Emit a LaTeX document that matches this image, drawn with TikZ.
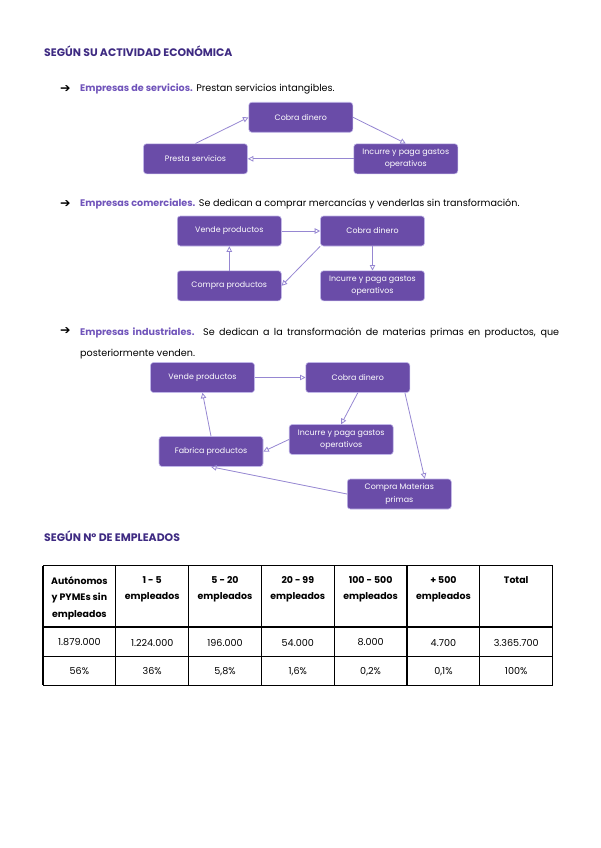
\documentclass[tikz,border=0pt]{standalone}
\usepackage{fontspec}
\setmainfont{Poppins}
\newfontfamily\symfont{DejaVu Sans}
\usepackage{xcolor}
\usetikzlibrary{arrows.meta}

\definecolor{boxpurple}{RGB}{106,76,168}
\definecolor{boxedge}{RGB}{192,182,232}
\definecolor{arrowlav}{RGB}{150,135,210}
\definecolor{headpurple}{RGB}{62,42,130}
\definecolor{empurple}{RGB}{112,84,186}

\begin{document}
\begin{tikzpicture}
  [x=1pt, y=-1pt,
    box/.style={rectangle, rounded corners=3pt, fill=boxpurple, draw=boxedge,
      line width=0.6pt, minimum width=104pt, minimum height=30pt,
      align=center, text=white, inner sep=1pt,
      font=\fontsize{7.9}{12.4}\selectfont},
    ld/.style={draw=arrowlav, line width=0.8pt,
      -{Triangle[open,length=5.5pt,width=5.5pt]}},
    heading/.style={anchor=west, inner sep=0pt, text=headpurple,
      font=\fontsize{10.9}{13}\selectfont\bfseries},
    bullet/.style={anchor=west, inner sep=0pt, font=\fontsize{9.6}{11}\selectfont},
    mark arrow/.style={anchor=west, inner sep=0pt, font=\fontsize{12.5}{13}\symfont},
    cellhead/.style={anchor=north, align=center, inner sep=0pt,
      font=\fontsize{9.4}{16.6}\selectfont\bfseries},
    cellval/.style={inner sep=0pt, font=\fontsize{9.6}{11}\selectfont}
  ]
  \useasboundingbox (0,0) rectangle (600,848);

  % titles and bullets
  \node (t1) at (44,51) [heading] {SEGÚN SU ACTIVIDAD ECONÓMICA};
  \node (a1) at (60,89)  [mark arrow] {➔};
  \node (a2) at (60,204) [mark arrow] {➔};
  \node (a3) at (60,331) [mark arrow] {➔};
  \node (m1) at (80,89) [bullet] {\textcolor{empurple}{\bfseries Empresas de servicios.} Prestan servicios intangibles.};
  \node (m2) at (80,204) [bullet] {\textcolor{empurple}{\bfseries Empresas comerciales.} Se dedican a comprar mercancías y venderlas sin transformación.};
  \node (m3) at (80,328) [anchor=north west, inner sep=0pt, text width=479pt,
    align=justify, font=\fontsize{9.6}{20.4}\selectfont]
    {\hyphenpenalty=10000 \textcolor{empurple}{\bfseries Empresas industriales.} Se dedican a la transformación de materias primas en productos, que\linebreak posteriormente venden.};

  % servicios
  \node (cobra1)   at (300.8,117.3) [box] {Cobra dinero};
  \node (presta)   at (195.5,158.8) [box] {Presta servicios};
  \node (incurre1) at (405.8,158.8) [box] {Incurre y paga gastos\\operativos};

  \draw [ld] (presta.north) -- (cobra1.west);
  \draw [ld] (cobra1.east) -- (incurre1.north);
  \draw [ld] (incurre1.west) -- (presta.east);

  % comerciales
  \node (vende2)   at (229.3,231.0) [box] {Vende productos};
  \node (cobra2)   at (372.5,231.0) [box] {Cobra dinero};
  \node (compra2)  at (229.3,285.8) [box] {Compra productos};
  \node (incurre2) at (372.5,285.8) [box] {Incurre y paga gastos\\operativos};

  \draw [ld] (vende2.east) -- (cobra2.west);
  \draw [ld] (cobra2.south) -- (incurre2.north);
  \draw [ld] (cobra2.south west) -- (compra2.east);
  \draw [ld] (compra2.north) -- (vende2.south);

  % industriales
  \node (vende3)    at (202.5,377.5) [box] {Vende productos};
  \node (cobra3)    at (357.8,377.5) [box] {Cobra dinero};
  \node (incurre3)  at (341.2,439.5) [box] {Incurre y paga gastos\\operativos};
  \node (fabrica3)  at (211.0,451.5) [box] {Fabrica productos};
  \node (materias3) at (399.3,494.0) [box] {Compra Materias\\primas};

  \draw [ld] (vende3.east) -- (cobra3.west);
  \draw [ld] (cobra3.south) -- (incurre3.north);
  \draw [ld] (cobra3.-18) -- (materias3.31);
  \draw [ld] (incurre3.west) -- (fabrica3.east);
  \draw [ld] (materias3.west) -- (fabrica3.south);
  \draw [ld] (fabrica3.north) -- (vende3.south);

  % tabla
  \node (t2) at (44,536) [heading] {SEGÚN Nº DE EMPLEADOS};

  \foreach \i in {0,...,7}
    \draw [line width=1.1pt] ({43+72.8*\i},565.7) -- ({43+72.8*\i},685.4);
  \foreach \y in {565.7,627,656.7,685.4}
    \draw [line width=1.1pt] (43,\y) -- (552.6,\y);

  \foreach \h [count=\i from 0] in {Autónomos\\y PYMEs sin\\empleados,
      1 - 5\\empleados, 5 - 20\\empleados, 20 - 99\\empleados,
      100 - 500\\empleados, + 500\\empleados, Total}
    \node (h\i) at ({79.4+72.8*\i},576) [cellhead] {\h};

  \foreach \v [count=\i from 0] in {1.879.000, 1.224.000, 196.000, 54.000,
      8.000, 4.700, 3.365.700}
    \node (v\i) at ({79.4+72.8*\i},642.5) [cellval] {\v};

  \foreach \p [count=\i from 0] in {56\%, 36\%, {5,8\%}, {1,6\%}, {0,2\%},
      {0,1\%}, 100\%}
    \node (p\i) at ({79.4+72.8*\i},671.5) [cellval] {\p};
\end{tikzpicture}
\end{document}
